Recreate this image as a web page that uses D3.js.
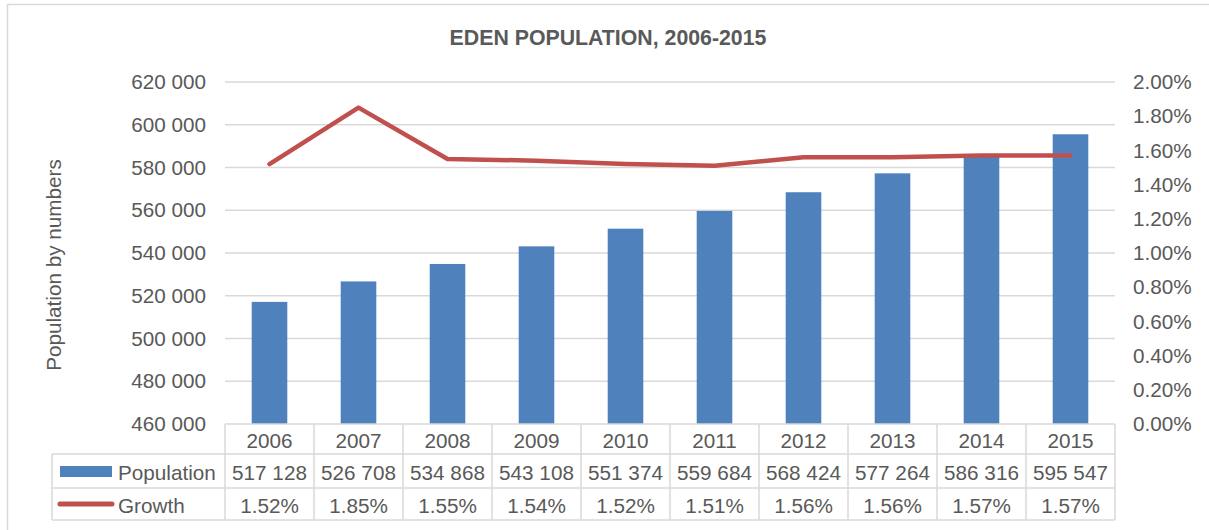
<!DOCTYPE html>
<html>
<head>
<meta charset="utf-8">
<title>eden_population</title>
<script src="https://cdn.jsdelivr.net/npm/d3@7/dist/d3.min.js"></script>
<style>
  body { margin: 0; background: #fff; }
  .lbl { font-family: "Liberation Sans", Arial, sans-serif; font-size: 20.7px; fill: #595959; }
  .title { font-family: "Liberation Sans", Arial, sans-serif; font-size: 21.3px; font-weight: bold; fill: #595959; }
  .grid line { stroke: #d9d9d9; stroke-width: 1.3px; }
  .tbl line { stroke: #d9d9d9; stroke-width: 1.5px; }
</style>
</head>
<body>
<div id="chart"></div>
<script>
var years = ["2006","2007","2008","2009","2010","2011","2012","2013","2014","2015"];
var population = [517128, 526708, 534868, 543108, 551374, 559684, 568424, 577264, 586316, 595547];
var growth = [0.0152, 0.0185, 0.0155, 0.0154, 0.0152, 0.0151, 0.0156, 0.0156, 0.0157, 0.0157];
var popTicks = [460000, 480000, 500000, 520000, 540000, 560000, 580000, 600000, 620000];
var growthTicks = [0, 0.002, 0.004, 0.006, 0.008, 0.010, 0.012, 0.014, 0.016, 0.018, 0.020];

var width = 1209, height = 530,
    plotLeft = 225, plotRight = 1115, plotTop = 82, plotBottom = 424,
    rowH = [30, 34, 32],
    legendX = 52;

var loc = d3.formatLocale({decimal: ".", thousands: " ", grouping: [3], currency: ["", ""]});
var fmtPop = loc.format(",d"), fmtPct = d3.format(".2%");

var svg = d3.select("#chart").append("svg")
    .attr("width", width)
    .attr("height", height);

svg.append("rect")
    .attr("x", 7.5).attr("y", 4.5)
    .attr("width", 1300).attr("height", 600)
    .attr("fill", "#fff")
    .attr("stroke", "#d9d9d9").attr("stroke-width", 1.5);

svg.append("text")
    .attr("class", "title")
    .attr("x", 608).attr("y", 45)
    .attr("text-anchor", "middle")
    .text("EDEN POPULATION, 2006-2015");

var x = d3.scaleBand().domain(years).range([plotLeft, plotRight]).paddingInner(0.6).paddingOuter(0.3);
var xCol = d3.scaleBand().domain(years).range([plotLeft, plotRight]);
var yL = d3.scaleLinear().domain([460000, 620000]).range([plotBottom, plotTop]);
var yR = d3.scaleLinear().domain([0, 0.02]).range([plotBottom, plotTop]);

// gridlines
svg.append("g").attr("class", "grid")
  .selectAll("line")
  .data(popTicks.slice(1))
  .enter().append("line")
    .attr("x1", plotLeft).attr("x2", plotRight)
    .attr("y1", function(d){ return yL(d); })
    .attr("y2", function(d){ return yL(d); });

// left axis
var axL = svg.append("g")
    .attr("transform", "translate(" + (plotLeft - 19) + ",0)")
    .call(d3.axisLeft(yL).tickValues(popTicks).tickFormat(fmtPop).tickSize(0).tickPadding(0));
axL.select(".domain").remove();
axL.selectAll("text").attr("class", "lbl").attr("font-size", null).attr("font-family", null).attr("fill", null);

// right axis
var axR = svg.append("g")
    .attr("transform", "translate(" + (plotRight + 18) + ",0)")
    .call(d3.axisRight(yR).tickValues(growthTicks).tickFormat(fmtPct).tickSize(0).tickPadding(0));
axR.select(".domain").remove();
axR.selectAll("text").attr("class", "lbl").attr("font-size", null).attr("font-family", null).attr("fill", null);

// axis title
svg.append("text")
    .attr("class", "lbl")
    .attr("transform", "translate(61,265) rotate(-90)")
    .attr("text-anchor", "middle")
    .text("Population by numbers");

// bars
svg.append("g").selectAll("rect")
  .data(population)
  .enter().append("rect")
    .attr("x", function(d, i){ return x(years[i]); })
    .attr("width", x.bandwidth())
    .attr("y", function(d){ return yL(d); })
    .attr("height", function(d){ return plotBottom - yL(d); })
    .attr("fill", "#4f81bd");

// growth line
var line = d3.line()
    .x(function(d, i){ return x(years[i]) + x.bandwidth() / 2; })
    .y(function(d){ return yR(d); });

svg.append("path")
    .datum(growth)
    .attr("d", line)
    .attr("fill", "none")
    .attr("stroke", "#c0504d")
    .attr("stroke-width", 4.5)
    .attr("stroke-linecap", "round")
    .attr("stroke-linejoin", "round");

// data table
var y1 = plotBottom, y2 = y1 + rowH[0], y3 = y2 + rowH[1], y4 = y3 + rowH[2];
var tbl = svg.append("g").attr("class", "tbl");
tbl.append("line").attr("x1", plotLeft).attr("x2", plotRight).attr("y1", y1).attr("y2", y1);
[y2, y3, y4].forEach(function(yy){
  tbl.append("line").attr("x1", legendX).attr("x2", plotRight).attr("y1", yy).attr("y2", yy);
});
tbl.append("line").attr("x1", legendX).attr("x2", legendX).attr("y1", y2).attr("y2", y4);
years.concat(["end"]).forEach(function(d, i){
  var xx = plotLeft + i * xCol.step();
  tbl.append("line").attr("x1", xx).attr("x2", xx).attr("y1", y1).attr("y2", y4);
});

function colText(arr, yy, fmt){
  svg.append("g").selectAll("text")
    .data(arr)
    .enter().append("text")
      .attr("class", "lbl")
      .attr("x", function(d, i){ return xCol(years[i]) + xCol.bandwidth() / 2; })
      .attr("y", yy)
      .attr("text-anchor", "middle")
      .attr("dominant-baseline", "central")
      .text(fmt);
}
colText(years, (y1 + y2) / 2 + 1, function(d){ return d; });
colText(population, (y2 + y3) / 2 + 1, fmtPop);
colText(growth, (y3 + y4) / 2 + 1, fmtPct);

// legend keys in table
svg.append("rect")
    .attr("x", 60).attr("y", (y2 + y3) / 2 - 5)
    .attr("width", 52).attr("height", 11)
    .attr("fill", "#4f81bd");
svg.append("line")
    .attr("x1", 60).attr("x2", 112)
    .attr("y1", (y3 + y4) / 2).attr("y2", (y3 + y4) / 2)
    .attr("stroke", "#c0504d").attr("stroke-width", 5)
    .attr("stroke-linecap", "round");
svg.append("text").attr("class", "lbl")
    .attr("x", 118).attr("y", (y2 + y3) / 2 + 1)
    .attr("dominant-baseline", "central")
    .text("Population");
svg.append("text").attr("class", "lbl")
    .attr("x", 118).attr("y", (y3 + y4) / 2 + 1)
    .attr("dominant-baseline", "central")
    .text("Growth");
</script>
</body>
</html>
